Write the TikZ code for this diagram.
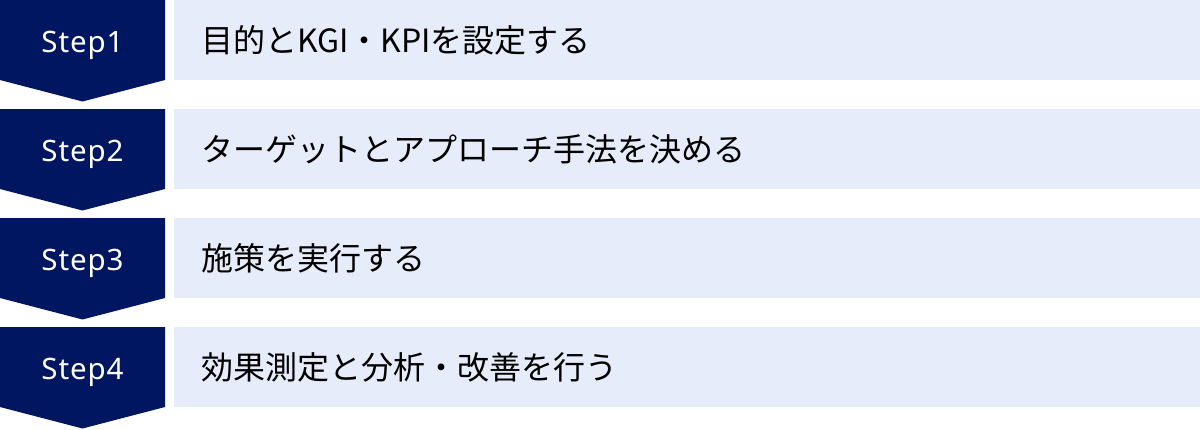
\documentclass[tikz,border=0pt]{standalone}
\usepackage{fontspec}
\setsansfont[LetterSpace=3]{Noto Sans}
\newfontfamily\jpfont{Noto Sans CJK JP}
\definecolor{navy}{HTML}{001660}
\definecolor{lightbg}{HTML}{E6ECF9}
\begin{document}
\begin{tikzpicture}[x=1pt,y=-1pt,
  stepshape/.style={fill=navy,draw=none},
  bar/.style={fill=lightbg,draw=none},
  steplabel/.style={text=white,font=\sffamily\fontsize{29.5}{34}\selectfont,anchor=base,inner sep=0pt},
  barlabel/.style={text=black,font=\jpfont\fontsize{32}{36}\selectfont,anchor=west,inner sep=0pt}]
\useasboundingbox (0,0) rectangle (1200,429);
\foreach \i/\t in {0/目的とKGI・KPIを設定する,1/ターゲットとアプローチ手法を決める,2/施策を実行する,3/効果測定と分析・改善を行う}{
  \pgfmathsetmacro{\y}{\i*109}
  \fill[stepshape] (0,\y) -- (165,\y) -- (165,\y+80) -- (82.5,\y+101.5) -- (0,\y+80) -- cycle;
  \fill[bar] (174,\y) rectangle (1200,\y+80);
  \pgfmathtruncatemacro{\n}{\i+1}
  \node[steplabel] (s\n) at (82.5,\y+52) {Step\n};
  \node[barlabel] (t\n) at (201,\y+40) {\t};
}
\end{tikzpicture}
\end{document}
